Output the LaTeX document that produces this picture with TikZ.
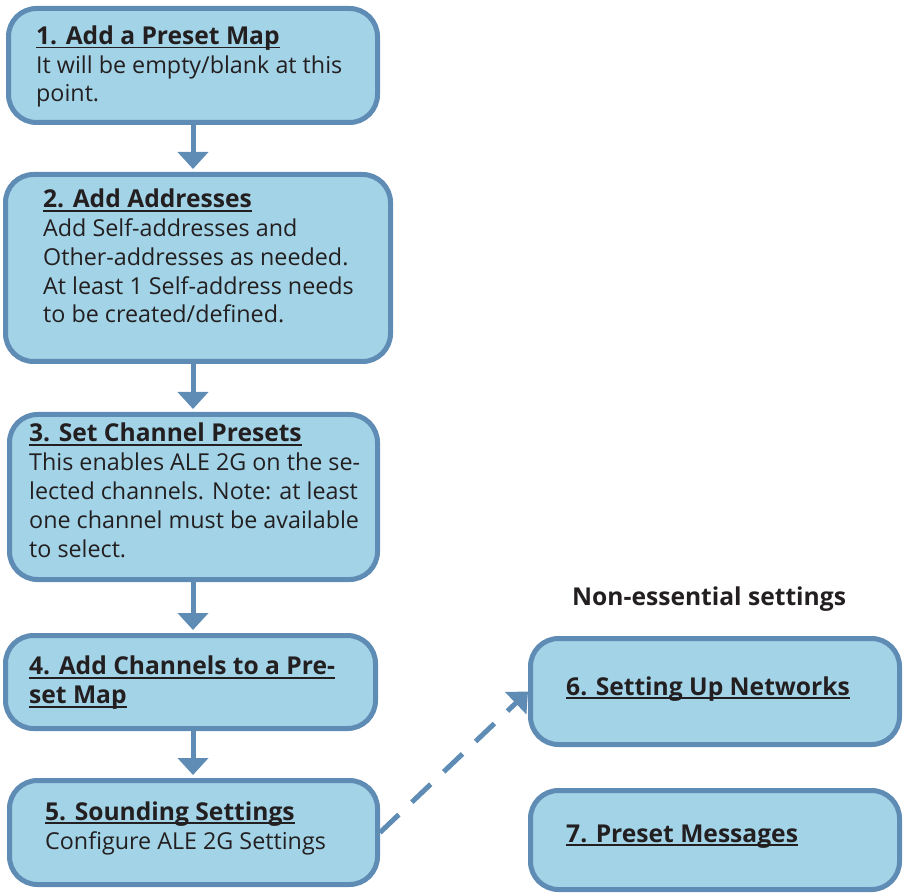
\documentclass[tikz,border=0pt]{standalone}
\usepackage{fontspec}
\setmainfont{Open Sans}
\usetikzlibrary{arrows.meta}

\definecolor{boxfill}{HTML}{A2D3E7}
\definecolor{boxline}{HTML}{5F8CB4}
\definecolor{ink}{HTML}{231F20}

% underlined bold step title
\newcommand\steptitle[1]{\setbox0\hbox{\fontsize{24.6}{28.8}\selectfont\bfseries #1}%
  \rlap{\rule[-4pt]{\wd0}{1.8pt}}\box0}

\tikzset{
  stepbox/.style={draw=boxline, fill=boxfill, line width=5pt, rounded corners=28pt,
    inner sep=0pt},
  steptext/.style={anchor=base west, align=left, inner sep=0pt, text=ink,
    font=\fontsize{23.3}{28.8}\selectfont},
  flow/.style={draw=boxline, line width=5pt,
    -{Triangle[width=30pt,length=17pt]}, shorten >=3pt},
}

\begin{document}
\begin{tikzpicture}[x=1pt,y=-1pt]
\useasboundingbox (0,0) rectangle (903,893);
% Boxes of the essential steps
\node[stepbox, minimum width=369pt, minimum height=114pt] (b1) at (193,65.5) {};
\node[stepbox, minimum width=385pt, minimum height=187pt] (b2) at (198,268) {};
\node[stepbox, minimum width=368pt, minimum height=165pt] (b3) at (193.5,497) {};
\node[stepbox, minimum width=370pt, minimum height=93pt] (b4) at (190.5,682) {};
\node[stepbox, minimum width=368pt, minimum height=104pt] (b5) at (193.5,832.5) {};
% Boxes of the non-essential steps
\node[stepbox, minimum width=369pt, minimum height=106pt] (b6) at (715,691.5) {};
\node[stepbox, minimum width=369pt, minimum height=99pt] (b7) at (715,840) {};
% Texts (placed at the baseline of their last line)
\node[steptext] (t1) at (36,102) {\steptitle{1. Add a Preset Map}\\
  It will be empty/blank at this\\ point.};
\node[steptext] (t2) at (43,323) {\steptitle{2. Add Addresses}\\
  Add Self-addresses and\\ Other-addresses as needed.\\
  At least 1 Self-address needs\\ to be created/defined.};
\node[steptext] (t3) at (29,557) {\steptitle{3. Set Channel Presets}\\
  This enables ALE 2G on the se-\\ lected channels. Note: at least\\
  one channel must be available\\ to select.};
\node[steptext] (t4) at (29,703.5) {\steptitle{4. Add Channels to a Pre-}\\
  \steptitle{set Map}};
\node[steptext] (t5) at (45,849) {\steptitle{5. Sounding Settings}\\
  Configure ALE 2G Settings};
\node[steptext] (t6) at (566,695) {\steptitle{6. Setting Up Networks}};
\node[steptext] (t7) at (566,842) {\steptitle{7. Preset Messages}};
\node[steptext, font=\fontsize{24.6}{28.8}\selectfont\bfseries] (nes) at (572,605)
  {Non-essential settings};
% Arrows down the chain
\coordinate (axis) at (193,0);
\draw[flow] (b1.south -| axis) -- (b2.north -| axis);
\draw[flow] (b2.south -| axis) -- (b3.north -| axis);
\draw[flow] (b3.south -| axis) -- (b4.north -| axis);
\draw[flow] (b4.south -| axis) -- (b5.north -| axis);
\draw[flow, dash pattern=on 26pt off 18pt, shorten >=0pt] (b5.east) -- (b6.west);
\end{tikzpicture}
\end{document}
